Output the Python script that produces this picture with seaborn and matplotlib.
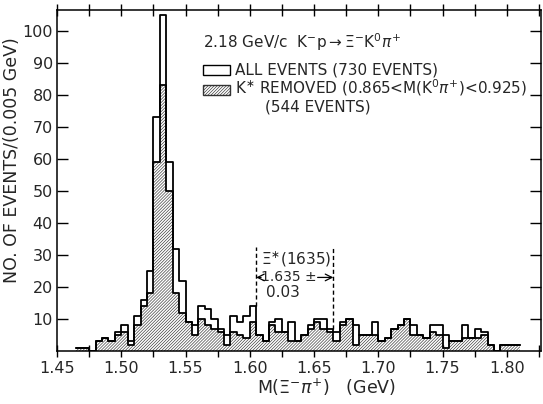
import numpy as np
import pandas as pd
import matplotlib
matplotlib.use("Agg")
import matplotlib.pyplot as plt
from matplotlib.patches import Rectangle
from matplotlib.ticker import MultipleLocator
import seaborn as sns

# Xi- pi+ effective mass histogram, 0.005 GeV bins (left edges)
bin_left = [1.465, 1.470, 1.475, 1.480, 1.485, 1.490, 1.495, 1.500, 1.505, 1.510,
            1.515, 1.520, 1.525, 1.530, 1.535, 1.540, 1.545, 1.550, 1.555, 1.560,
            1.565, 1.570, 1.575, 1.580, 1.585, 1.590, 1.595, 1.600, 1.605, 1.610,
            1.615, 1.620, 1.625, 1.630, 1.635, 1.640, 1.645, 1.650, 1.655, 1.660,
            1.665, 1.670, 1.675, 1.680, 1.685, 1.690, 1.695, 1.700, 1.705, 1.710,
            1.715, 1.720, 1.725, 1.730, 1.735, 1.740, 1.745, 1.750, 1.755, 1.760,
            1.765, 1.770, 1.775, 1.780, 1.785, 1.790, 1.795, 1.800, 1.805]
all_events = [1, 1, 0, 3, 4, 3, 6, 8, 3, 11,
              16, 25, 73, 105, 59, 32, 22, 9, 8, 14,
              13, 10, 7, 5, 11, 9, 11, 14, 5, 3,
              9, 10, 6, 9, 3, 5, 8, 10, 10, 7,
              6, 9, 10, 8, 5, 5, 9, 3, 4, 7,
              8, 10, 8, 5, 4, 8, 8, 5, 3, 3,
              8, 4, 7, 6, 2, 0, 2, 2, 2]
kstar_removed = [1, 1, 0, 3, 4, 3, 5, 6, 2, 8,
                 14, 18, 59, 83, 50, 18, 12, 9, 5, 10,
                 8, 7, 6, 2, 6, 5, 4, 9, 5, 3,
                 8, 6, 6, 3, 3, 5, 7, 9, 7, 6,
                 3, 8, 10, 2, 5, 5, 5, 3, 4, 7,
                 8, 10, 5, 5, 4, 6, 5, 1, 3, 3,
                 4, 4, 4, 5, 2, 0, 2, 2, 2]
bin_width = 0.005
x_ticks = [1.45, 1.50, 1.55, 1.60, 1.65, 1.70, 1.75, 1.80]
x_tick_labels = ["1.45", "1.50", "1.55", "1.60", "1.65", "1.70", "1.75", "1.80"]
y_ticks = [10, 20, 30, 40, 50, 60, 70, 80, 90, 100]

# Xi*(1635) band: centre and half width
xi_center = 1.635
xi_half = 0.03

sns.set_theme(style="white")
plt.rcParams["font.family"] = ["DejaVu Sans"]
plt.rcParams["hatch.linewidth"] = 0.45
plt.rcParams["hatch.color"] = "#333333"
HATCH = "/" * 11

df = pd.DataFrame({
    "mass": np.round(np.array(bin_left) + bin_width / 2, 4),
    "all": all_events,
    "kstar": kstar_removed,
})
edges = [round(v, 4) for v in list(bin_left) + [bin_left[-1] + bin_width]]

fig = plt.figure(figsize=(5.43, 4.04), dpi=100)
ax = fig.add_axes([57 / 543, 53 / 404, 484 / 543, 341 / 404])

# hatched K* removed histogram
sns.histplot(data=df, x="mass", weights="kstar", bins=edges, element="step",
             fill=True, facecolor="white", edgecolor="#333333", hatch=HATCH,
             linewidth=0, alpha=1, ax=ax)
sns.histplot(data=df, x="mass", weights="kstar", bins=edges, element="step",
             fill=False, color="black", linewidth=1.3, ax=ax)
# all events outline
sns.histplot(data=df, x="mass", weights="all", bins=edges, element="step",
             fill=False, color="black", linewidth=1.3, ax=ax)

ax.set_xlim(1.45, 1.8266)
ax.set_ylim(0, 106.6)

ax.set_xticks(x_ticks)
ax.set_xticklabels(x_tick_labels)
ax.xaxis.set_minor_locator(MultipleLocator(0.025))
ax.set_yticks(y_ticks)
ax.set_yticklabels([str(v) for v in y_ticks])
ax.tick_params(axis="x", which="both", bottom=True, top=True, direction="inout",
               length=9, width=1, labelsize=11.5, pad=3, color="black")
ax.tick_params(axis="y", which="both", left=True, right=True, direction="in",
               length=8, width=1, labelsize=11.5, pad=3, color="black")
for s in ax.spines.values():
    s.set_color("black")
    s.set_linewidth(1.1)

ax.set_xlabel(r"M($\Xi^{-}\pi^{+}$)   (GeV)", fontsize=12.5)
ax.xaxis.set_label_coords(0.556, -0.075)
ax.set_ylabel("NO. OF EVENTS/(0.005 GeV)", fontsize=12.5)
ax.yaxis.set_label_coords(-0.074, 0.56)

# reaction and legend
ax.text(1.5636, 96.6, r"2.18 GeV/c  K$^{-}$p$\rightarrow\Xi^{-}$K$^{0}\pi^{+}$",
        fontsize=11, va="center", ha="left")
ax.add_patch(Rectangle((1.5636, 86.3), 0.021, 3.2, facecolor="white",
                       edgecolor="black", linewidth=1))
ax.text(1.5885, 87.9, "ALL EVENTS (730 EVENTS)", fontsize=11, va="center", ha="left")
ax.add_patch(Rectangle((1.5636, 80.0), 0.021, 3.2, facecolor="white",
                       edgecolor="#333333", hatch=HATCH, linewidth=1))
ax.text(1.5885, 82.2, r"K$^{\ast}$ REMOVED (0.865<M(K$^{0}\pi^{+}$)<0.925)",
        fontsize=11, va="center", ha="left")
ax.text(1.612, 76.2, "(544 EVENTS)", fontsize=11, va="center", ha="left")

# Xi*(1635) marker lines
lo, hi = xi_center - xi_half, xi_center + xi_half
idx_lo = int(round((lo - bin_left[0]) / bin_width))
idx_hi = int(round((hi - bin_left[0]) / bin_width))
y_lo = max(all_events[idx_lo - 1], all_events[idx_lo])
y_hi = max(all_events[idx_hi - 1], all_events[idx_hi])
ax.plot([lo, lo], [y_lo, 32.5], ls=(0, (3, 2)), color="black", lw=1)
ax.plot([hi, hi], [y_hi, 32.5], ls=(0, (3, 2)), color="black", lw=1)
ax.text(1.636, 28.6, r"$\Xi^{\ast}$(1635)", fontsize=11, ha="center", va="center")
ax.text(1.6305, 23.0, "1.635 \u00b1", fontsize=10, ha="center", va="center")
ax.annotate("", xy=(lo, 23.0), xytext=(1.6088, 23.0),
            arrowprops=dict(arrowstyle="->", lw=0.9, color="black",
                            shrinkA=0, shrinkB=0))
ax.annotate("", xy=(hi, 23.0), xytext=(1.6528, 23.0),
            arrowprops=dict(arrowstyle="->", lw=0.9, color="black",
                            shrinkA=0, shrinkB=0))
ax.text(1.626, 18.4, "0.03", fontsize=11, ha="center", va="center")

fig.savefig("out.png", dpi=100)
